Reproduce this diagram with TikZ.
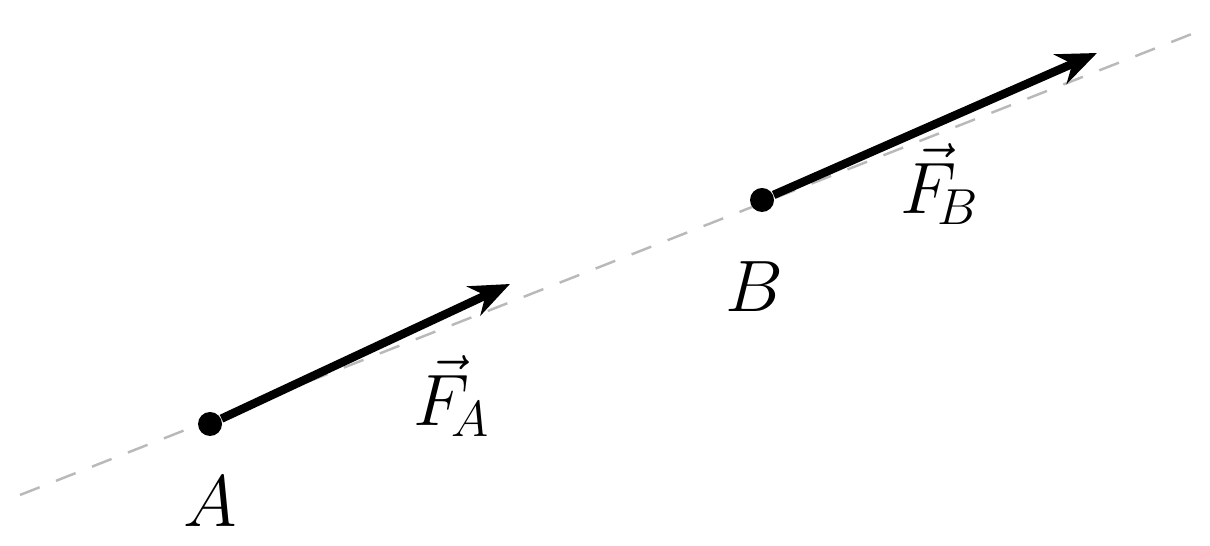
\documentclass[tikz,border=0pt]{standalone}
\usepackage{tikz}
\usetikzlibrary{positioning,arrows.meta}

\begin{document}
\begin{tikzpicture}[
      pt/.style={circle, fill, inner sep=0pt, minimum size=0.24cm},
      lbl/.style={font=\fontsize{21}{25}\selectfont, inner sep=1pt},
      force/.style={-{Stealth[length=4mm, width=3.2mm]}, line width=2.4pt},
      axis/.style={gray!55, dashed, line width=0.7pt, dash pattern=on 6pt off 5pt}]
    \useasboundingbox (0,0) rectangle (12.1,5.46);
    % line of action
    \coordinate (l1) at (0.20,0.51);
    \coordinate (l2) at (12.07,5.18);
    \draw[axis] (l1) -- (l2);
    % the two points
    \node[pt] (a) at (2.10,1.22) {};
    \node[pt] (b) at (7.62,3.46) {};
    \node[lbl, below=0.36cm of a] (la) {$A$};
    \node[lbl, below=0.45cm of b, xshift=-0.08cm] (lb) {$B$};
    % forces
    \coordinate (fa) at (5.10,2.62);
    \coordinate (fb) at (10.97,4.93);
    \draw[force] (a) -- (fa);
    \draw[force] (b) -- (fb);
    \node[lbl] (lfa) at (4.52,1.50) {$\vec F_{\!A}$};
    \node[lbl] (lfb) at (9.40,3.62) {$\vec F_{\!B}$};
  \end{tikzpicture}
\end{document}
